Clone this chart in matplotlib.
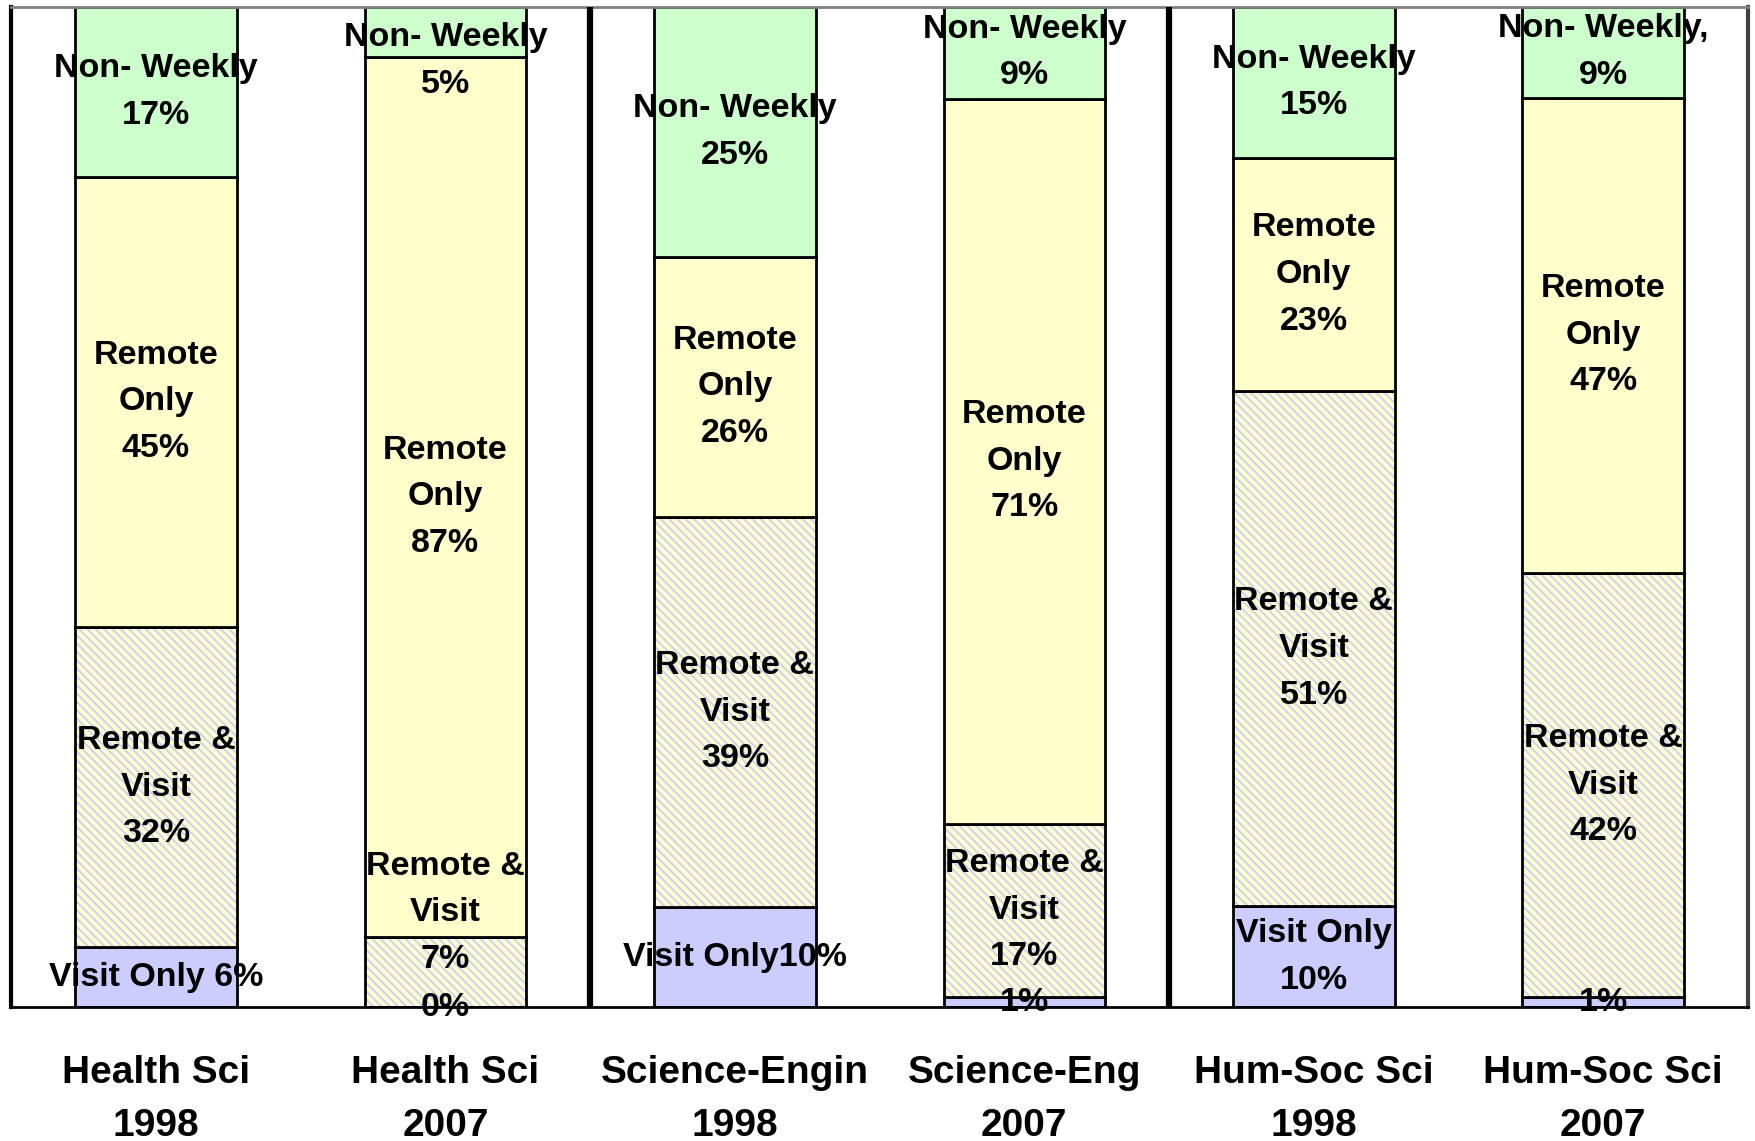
import numpy as np
import matplotlib.pyplot as plt

plt.rcParams['font.family'] = ['Liberation Sans', 'DejaVu Sans']
plt.rcParams['hatch.linewidth'] = 1.3

categories = ["Health Sci\n1998", "Health Sci\n2007", "Science-Engin\n1998",
              "Science-Eng\n2007", "Hum-Soc Sci\n1998", "Hum-Soc Sci\n2007"]

# shares in percent, as printed on the chart (bottom to top)
visit_only = [6, 0, 10, 1, 10, 1]
remote_visit = [32, 7, 39, 17, 51, 42]
remote_only = [45, 87, 26, 71, 23, 47]
non_weekly = [17, 5, 25, 9, 15, 9]

visit_labels = ["Visit Only 6%", "0%", "Visit Only10%", "1%", "Visit Only\n10%", "1%"]
rv_labels = ["Remote &\nVisit\n32%", "Remote &\nVisit\n7%", "Remote &\nVisit\n39%",
             "Remote &\nVisit\n17%", "Remote &\nVisit\n51%", "Remote &\nVisit\n42%"]
ro_labels = ["Remote\nOnly\n45%", "Remote\nOnly\n87%", "Remote\nOnly\n26%",
             "Remote\nOnly\n71%", "Remote\nOnly\n23%", "Remote\nOnly\n47%"]
nw_labels = ["Non- Weekly\n17%", "Non- Weekly\n5%", "Non- Weekly\n25%",
             "Non- Weekly\n9%", "Non- Weekly\n15%", "Non- Weekly,\n9%"]

series = [visit_only, remote_visit, remote_only, non_weekly]
labels = [visit_labels, rv_labels, ro_labels, nw_labels]
faces = ['#CCCCFF', '#FFFFCC', '#FFFFCC', '#CCFFCC']
hatches = [None, '\\\\\\\\', None, None]

# label nudges (percentage points) where Excel pushed labels inside the plot
nudge = {(1, 1): 5.9, (1, 3): -0.9}

fig = plt.figure(figsize=(17.55, 11.41), dpi=100)
ax = fig.add_axes([0.0064, 0.1171, 0.9896, 0.8770])

data = np.array(series, dtype=float)
totals = data.sum(axis=0)
heights = data / totals * 100  # Excel 100% stacked normalises each column
x = np.arange(len(categories))
bottom = np.zeros(len(categories))

for k in range(len(series)):
    bars = ax.bar(x, heights[k], 0.558, bottom=bottom, color=faces[k],
                  edgecolor='black', linewidth=2.0, hatch=hatches[k], zorder=2)
    if hatches[k]:
        for b in bars:
            b._hatch_color = (0.8, 0.8, 1.0, 1.0)
    for i in range(len(categories)):
        yc = bottom[i] + heights[k][i] / 2
        if k == 3:
            yc = min(yc, 95.5)
        yc += nudge.get((i, k), 0)
        ax.text(x[i], yc, labels[k][i], ha='center', va='center',
                fontsize=24.5, fontweight='bold', linespacing=1.65, zorder=4)
    bottom += heights[k]

for sep in (1.5, 3.5):
    ax.axvline(sep, color='black', linewidth=4.5, zorder=3)

ax.set_xlim(-0.5, 5.5)
ax.set_ylim(0, 100)
ax.set_yticks([])
ax.set_xticks(x)
ax.set_xticklabels(categories, fontsize=28, fontweight='bold', linespacing=1.6)
ax.tick_params(axis='x', length=0, pad=34.6)

ax.spines['left'].set_color('black')
ax.spines['left'].set_linewidth(3)
ax.spines['right'].set_color('#404040')
ax.spines['right'].set_linewidth(3)
ax.spines['top'].set_color('#808080')
ax.spines['top'].set_linewidth(2)
ax.spines['bottom'].set_color('black')
ax.spines['bottom'].set_linewidth(2)

fig.savefig('out.png', dpi=100)
